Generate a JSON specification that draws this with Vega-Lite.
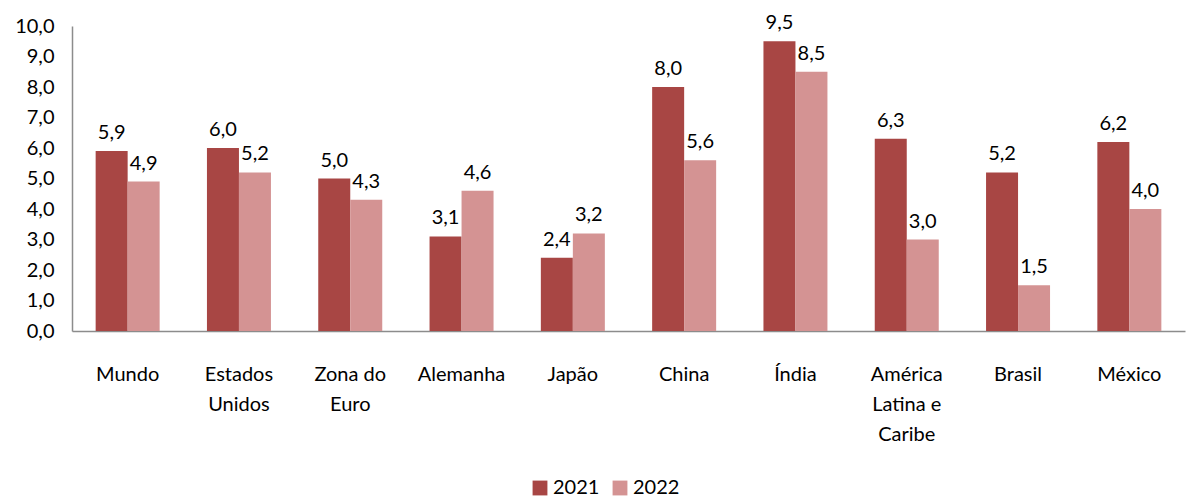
{
  "$schema": "https://vega.github.io/schema/vega-lite/v6.json",
  "width": 1113,
  "height": 305,
  "autosize": "none",
  "padding": {"left": 72, "top": 26, "right": 16, "bottom": 169},
  "background": "white",
  "config": {
    "view": {"stroke": null},
    "font": "Lato",
    "locale": {"number": {"decimal": ",", "thousands": ".", "grouping": [3], "currency": ["R$", ""]}},
    "axis": {"labelFont": "Lato", "labelColor": "#000000"},
    "legend": {"labelFont": "Lato"}
  },
  "data": {
    "values": [
      {"country": "Mundo", "year": "2021", "value": 5.9},
      {"country": "Mundo", "year": "2022", "value": 4.9},
      {"country": "Estados Unidos", "year": "2021", "value": 6.0},
      {"country": "Estados Unidos", "year": "2022", "value": 5.2},
      {"country": "Zona do Euro", "year": "2021", "value": 5.0},
      {"country": "Zona do Euro", "year": "2022", "value": 4.3},
      {"country": "Alemanha", "year": "2021", "value": 3.1},
      {"country": "Alemanha", "year": "2022", "value": 4.6},
      {"country": "Japão", "year": "2021", "value": 2.4},
      {"country": "Japão", "year": "2022", "value": 3.2},
      {"country": "China", "year": "2021", "value": 8.0},
      {"country": "China", "year": "2022", "value": 5.6},
      {"country": "Índia", "year": "2021", "value": 9.5},
      {"country": "Índia", "year": "2022", "value": 8.5},
      {"country": "América Latina e Caribe", "year": "2021", "value": 6.3},
      {"country": "América Latina e Caribe", "year": "2022", "value": 3.0},
      {"country": "Brasil", "year": "2021", "value": 5.2},
      {"country": "Brasil", "year": "2022", "value": 1.5},
      {"country": "México", "year": "2021", "value": 6.2},
      {"country": "México", "year": "2022", "value": 4.0}
    ]
  },
  "encoding": {
    "x": {
      "field": "country",
      "type": "nominal",
      "sort": null,
      "scale": {"paddingInner": 0.425, "paddingOuter": 0.2125},
      "axis": {
        "title": null,
        "labelAngle": 0,
        "labelFontSize": 20,
        "labelPadding": 33,
        "labelLineHeight": 30,
        "labelBaseline": "top",
        "ticks": false,
        "domainColor": "#8c8c8c",
        "domainWidth": 1.5,
        "labelExpr": "datum.label == 'Estados Unidos' ? ['Estados', 'Unidos'] : datum.label == 'Zona do Euro' ? ['Zona do', 'Euro'] : datum.label == 'América Latina e Caribe' ? ['América', 'Latina e', 'Caribe'] : datum.label"
      }
    },
    "xOffset": {"field": "year", "type": "nominal"},
    "y": {
      "field": "value",
      "type": "quantitative",
      "scale": {"domain": [0, 10], "nice": false},
      "axis": {
        "title": null,
        "values": [0, 1, 2, 3, 4, 5, 6, 7, 8, 9, 10],
        "grid": false,
        "ticks": false,
        "labelFontSize": 20,
        "labelPadding": 18,
        "domainColor": "#8c8c8c",
        "domainWidth": 1.5,
        "labelExpr": "replace(format(datum.value, '.1f'), '.', ',')"
      }
    }
  },
  "layer": [
    {
      "mark": {"type": "bar"},
      "encoding": {
        "color": {
          "field": "year",
          "type": "nominal",
          "scale": {"domain": ["2021", "2022"], "range": ["#A84644", "#D49393"]},
          "legend": {
            "title": null,
            "orient": "none",
            "direction": "horizontal",
            "legendX": 458,
            "legendY": 452,
            "symbolType": "square",
            "symbolSize": 220,
            "symbolStrokeWidth": 0,
            "labelFontSize": 20,
            "columnPadding": 10,
            "labelOffset": 3
          }
        }
      }
    },
    {
      "mark": {"type": "text", "baseline": "bottom", "dy": -8, "fontSize": 20, "color": "#000000"},
      "encoding": {
        "text": {"field": "value", "type": "quantitative", "format": ".1f"}
      }
    }
  ]
}
